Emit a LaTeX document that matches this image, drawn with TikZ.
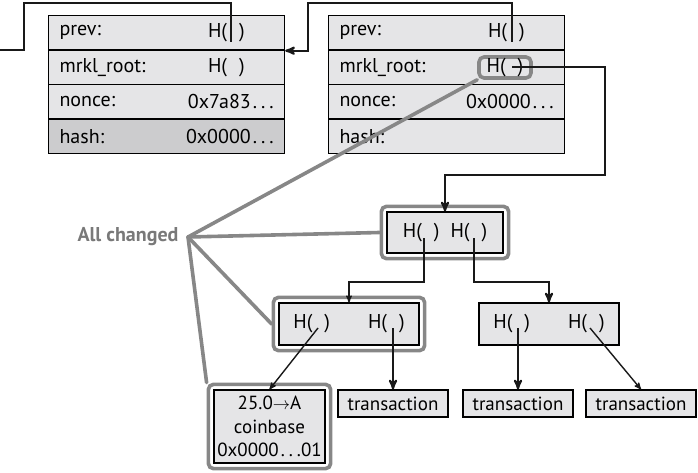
\documentclass[tikz,border=0pt]{standalone}
\usepackage{fontspec}
\setmainfont{PT Sans}
\usetikzlibrary{arrows}
\usetikzlibrary{calc,fit,positioning}
\definecolor{boxgray}{RGB}{229,229,231}
\definecolor{hashgray}{RGB}{204,204,206}
\definecolor{hlgray}{RGB}{135,135,135}
\newcommand{\Hp}{H(\hspace{12pt})}
\newcommand{\dts}{\kern2pt.\kern4pt.\kern4pt.}
\tikzset{
  row/.style={draw, line width=1.2pt, minimum width=236pt, minimum height=34.5pt, anchor=north west, inner sep=0pt},
  tbox/.style={draw, line width=1.2pt, fill=boxgray, inner sep=0pt},
  hl/.style={draw=hlgray, line width=3.6pt, rounded corners=5pt},
  ptr/.style={black!90, line width=2.2pt},
  ptrthin/.style={black!90, line width=1.4pt},
  fan/.style={hlgray, line width=3.6pt, line cap=round}
}

\begin{document}
\begin{tikzpicture}[x=1pt, y=-1pt, font=\fontsize{20}{24}\selectfont, >=stealth']
\useasboundingbox (0,0) rectangle (698,473);
% the two block headers
\foreach \b/\x/\hc in {L/48/hashgray, R/328/boxgray}
 \foreach \r/\f/\c [count=\i] in {prev/prev:/boxgray, root/mrkl\_root:/boxgray, nonce/nonce:/boxgray, hash/hash:/\hc} {
  \node[row, fill=\c] (\b\r) at (\x,{15+34.5*(\i-1)}) {};
  \node[anchor=west] (\b\r-k) at ([xshift=8pt]\b\r.west) {\f};
 }
\node[anchor=east] (Lprev-v) at ([xshift=-37pt]Lprev.east) {\Hp};
\node[anchor=east] (Lroot-v) at ([xshift=-37pt]Lroot.east) {\Hp};
\node[anchor=east] (Lnonce-v) at ([xshift=-8pt]Lnonce.east) {0x7a83\dts};
\node[anchor=east] (Lhash-v) at ([xshift=-8pt]Lhash.east) {0x0000\dts};
\node[anchor=east] (Rprev-v) at ([xshift=-37pt]Rprev.east) {\Hp};
\node[hl, minimum width=52pt, minimum height=21pt, inner sep=0pt] (Rroot-v) at (505,67.5) {\Hp};
\node[anchor=east] (Rnonce-v) at ([xshift=-8pt]Rnonce.east) {0x0000\dts};
\coordinate (Lprev-p) at (231,42);
\coordinate (Rprev-p) at (512,42);
\coordinate (Rroot-p) at (512,67);
\coordinate (Loff) at (0,50);

% merkle tree
\node[tbox, minimum width=116pt, minimum height=41pt] (t0) at (445,232.5) {\Hp\hspace{11pt}\Hp};
\node[tbox, minimum width=140pt, minimum height=42pt] (t1) at (349,324) {\Hp\hspace{38pt}\Hp};
\node[tbox, minimum width=140pt, minimum height=42pt] (t2) at (549,324) {\Hp\hspace{38pt}\Hp};
\node[tbox, minimum width=111pt, minimum height=73pt, align=center, font=\fontsize{19}{23.5}\selectfont] (c0) at (269.5,426.5) {25.0$\rightarrow$A\\coinbase\\0x0000\dts01};
\node[tbox, minimum width=110pt, minimum height=27pt, font=\fontsize{19}{23}\selectfont] (x1) at (393,403.5) {transaction};
\node[tbox, minimum width=110pt, minimum height=27pt, font=\fontsize{19}{23}\selectfont] (x2) at (518,403.5) {transaction};
\node[tbox, minimum width=110pt, minimum height=27pt, font=\fontsize{19}{23}\selectfont] (x3) at (641,403.5) {transaction};
\node[hl, fit=(t0), inner sep=5pt] (t0o) {};
\node[hl, fit=(t1), inner sep=5pt] (t1o) {};
\node[hl, fit=(c0), inner sep=5pt] (c0o) {};
\coordinate (t0-a) at (424,238);
\coordinate (t0-b) at (474,238);
\coordinate (t1-a) at (318,328);
\coordinate (t1-b) at (393,328);
\coordinate (t2-a) at (518,328);
\coordinate (t2-b) at (590,328);

% what changed
\node[anchor=east, font=\fontsize{20}{24}\selectfont\bfseries, text=hlgray!90!black] (chg) at (182,237) {All changed};
\coordinate (fan) at (188,237);
\foreach \t in {Rroot-v.south west, t0o.west, t1o.west, c0o.north west}
 \draw[fan] (fan) -- (\t);

% pointers
\draw[ptr] (Lprev-p) -- ++(0,-39) -| ($(Loff)+(24,0)$) -- (Loff);
\draw[ptr,->] (Rprev-p) -- ++(0,-39) -| ($(Lprev.south east)+(23,0)$) -- (Lprev.south east);
\draw[ptr,->] (Rroot-p) -- ++(93,0) -- ++(0,108) -| (t0.north);
\draw[ptrthin,->] (t0-a) -- ++(0,44) -| (t1.north);
\draw[ptr,->] (t0-b) -- ++(0,44) -| (t2.north);
\draw[ptrthin,->] (t1-a) -- (c0.north);
\draw[ptr,->] (t1-b) -- (x1.north);
\draw[ptr,->] (t2-a) -- (x2.north);
\draw[ptrthin,->] (t2-b) -- (x3.north);
\end{tikzpicture}
\end{document}
